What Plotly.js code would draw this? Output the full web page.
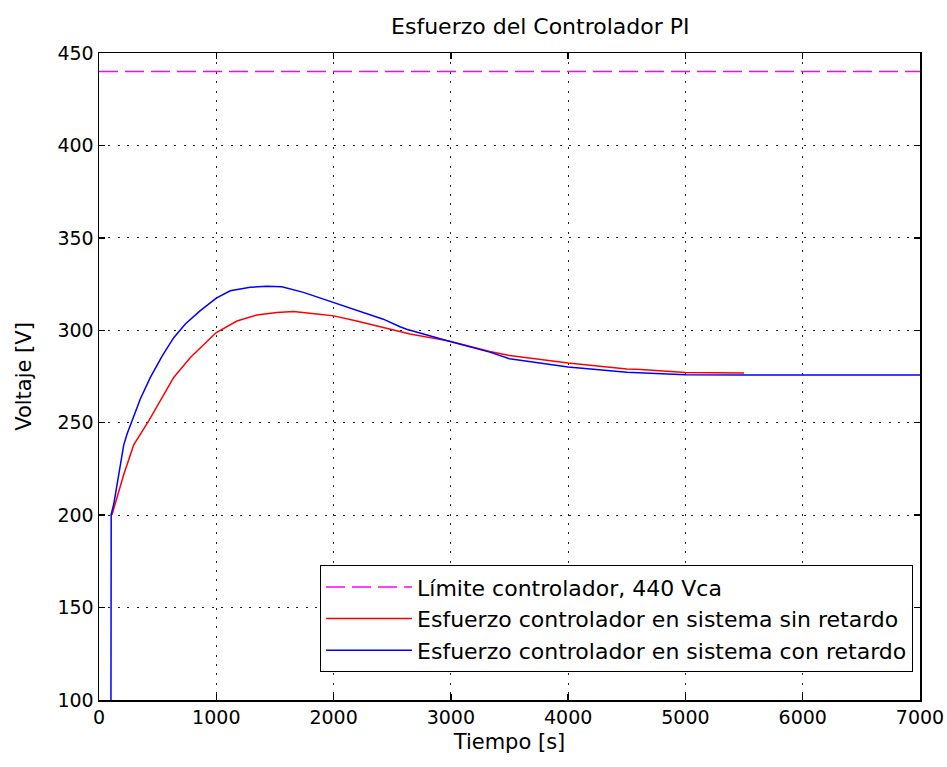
<!DOCTYPE html>
<html>
<head>
<meta charset="utf-8">
<script src="https://cdn.plot.ly/plotly-3.0.1.min.js"></script>
<style>html,body{margin:0;padding:0;background:#fff;}#chart{width:947px;height:767px;}</style>
</head>
<body>
<div id="chart"></div>
<script>
// Limit line
const limitT = [0, 7000];
const limitV = [440, 440];

// Controller effort, system without delay (red)
const redT = [100, 112, 211, 296, 424, 523, 637, 779, 864, 1000, 1176, 1346, 1516, 1658, 1857, 2002, 2197, 2424, 2566, 2651, 3000, 3332, 3500, 4000, 4500, 4619, 5000, 5500];
const redV = [200, 200.5, 222, 238, 251, 262, 274.5, 285.3, 290.7, 298.8, 305, 308.3, 309.6, 310.2, 308.8, 307.8, 305, 301.5, 299.6, 298, 294, 288.5, 286.4, 282.3, 279.1, 278.8, 277.2, 276.9];

// Controller effort, system with delay (blue)
const blueT = [100, 100, 104, 126, 169, 211, 240, 300, 353, 438, 538, 637, 736, 864, 1000, 1119, 1289, 1430, 1559, 1743, 2002, 2197, 2424, 2566, 2623, 3000, 3332, 3500, 4000, 4500, 4619, 5000, 5500, 6000, 7000];
const blueV = [0, 200, 200.5, 206, 222, 238, 244, 254, 263, 274.5, 286, 296, 303.4, 310.6, 317.4, 321.4, 323.3, 323.8, 323.5, 320.5, 315, 310.5, 306, 301.9, 300.6, 293.8, 288.2, 284.6, 280.1, 277.3, 276.9, 276, 275.8, 275.8, 275.8];

const xTicks = [0, 1000, 2000, 3000, 4000, 5000, 6000, 7000];
const yTicks = [100, 150, 200, 250, 300, 350, 400, 450];

const FONT = "DejaVu Sans, Verdana, sans-serif";

const traces = [
  {x: limitT, y: limitV, type: 'scatter', mode: 'lines', name: 'Límite controlador, 440 Vca',
   legendgroup: 'a', line: {color: '#ff00ff', width: 1.5, dash: '19px,7px'}},
  {x: redT, y: redV, type: 'scatter', mode: 'lines', name: 'Esfuerzo controlador en sistema sin retardo',
   legendgroup: 'b', line: {color: '#ff0000', width: 1.5}},
  {x: blueT, y: blueV, type: 'scatter', mode: 'lines', name: 'Esfuerzo controlador en sistema con retardo',
   legendgroup: 'c', line: {color: '#0000ff', width: 1.5}}
];

const axisCommon = {
  showline: true, linecolor: '#000', linewidth: 1.5, mirror: 'ticks',
  ticks: 'inside', ticklen: 6, tickcolor: '#000', tickwidth: 1.5,
  showgrid: true, gridcolor: '#222', griddash: '2px,7.4px', gridwidth: 1.2,
  zeroline: false, tickfont: {family: FONT, size: 19, color: '#000'}
};

const layout = {
  width: 947, height: 767,
  margin: {l: 98.5, r: 27, t: 52.5, b: 67},
  paper_bgcolor: '#fff', plot_bgcolor: '#fff',
  font: {family: FONT, color: '#000'},
  title: {text: 'Esfuerzo del Controlador PI', font: {family: FONT, size: 22, color: '#000'},
          x: 0.5375, xanchor: 'center', xref: 'paper', yref: 'container', y: 1 - 26 / 767, yanchor: 'middle'},
  xaxis: Object.assign({}, axisCommon, {
    range: [0, 7000], tickmode: 'array', tickvals: xTicks, ticktext: xTicks.map(String),
    title: {text: 'Tiempo [s]', font: {family: FONT, size: 21, color: '#000'}, standoff: 7}
  }),
  yaxis: Object.assign({}, axisCommon, {
    range: [100, 450], tickmode: 'array', tickvals: yTicks, ticktext: yTicks.map(String),
    title: {text: 'Voltaje [V]', font: {family: FONT, size: 21, color: '#000'}, standoff: 20}
  }),
  showlegend: true,
  legend: {
    x: 0.9915, xanchor: 'right', y: 0.043, yanchor: 'bottom',
    bgcolor: '#fff', bordercolor: '#000', borderwidth: 1,
    font: {family: FONT, size: 22, color: '#000'},
    tracegroupgap: 4, itemwidth: 86, traceorder: 'normal'
  }
};

Plotly.newPlot('chart', traces, layout, {displayModeBar: false, staticPlot: true});
</script>
</body>
</html>
